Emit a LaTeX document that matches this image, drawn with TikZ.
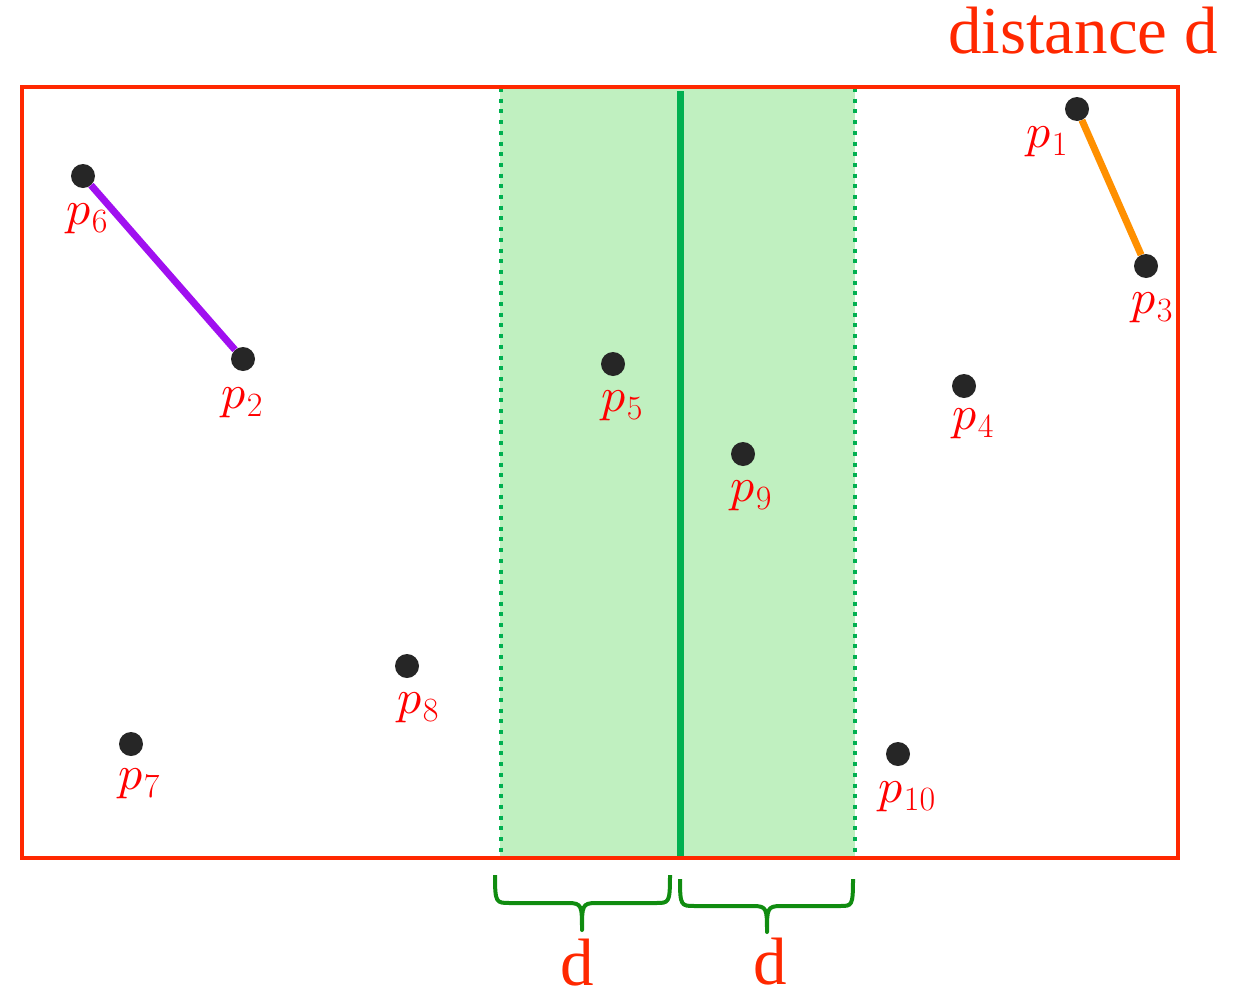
\documentclass[tikz,border=0pt]{standalone}
\usepackage{fontspec}
\DeclareFontShape{OML}{cmm}{m}{it}{<-6>cmmi5<6-7>cmmi6<7-8>cmmi7<8-9>cmmi8<9-10>cmmi9<10->cmmi10}{}
\newfontfamily\serifbig{Liberation Serif}
\newcommand{\ptname}[1]{$p$\kern1pt\raisebox{-8pt}{\fontsize{34}{40}\selectfont #1}}
\definecolor{framered}{RGB}{255,40,0}
\definecolor{labred}{RGB}{255,0,0}
\definecolor{bandgreen}{RGB}{192,240,192}
\definecolor{linegreen}{RGB}{0,176,80}
\definecolor{bracegreen}{RGB}{16,140,16}
\definecolor{dotgray}{RGB}{38,38,38}
\definecolor{pairpurple}{RGB}{160,16,240}
\definecolor{pairorange}{RGB}{255,144,0}
\tikzset{
  frame/.style={draw=framered,line width=3.5pt},
  dotline/.style={draw=linegreen,line width=4pt,dash pattern=on 4pt off 6.7pt},
  midline/.style={draw=linegreen,line width=7pt},
  pt/.style={circle,fill=dotgray,inner sep=0pt,minimum size=24pt},
  plab/.style={anchor=base,text=labred,inner sep=0pt,font=\fontsize{48}{56}\selectfont},
  biglab/.style={anchor=base,text=framered,inner sep=0pt,font=\serifbig\fontsize{67}{78}\selectfont},
  bracepath/.style={draw=bracegreen,line width=4pt,line join=round},
  pairline/.style={line width=7pt}
}
\begin{document}
\begin{tikzpicture}[x=1pt,y=-1pt]
\useasboundingbox (0,0) rectangle (1247,993);
% strip
\fill[bandgreen] (500,88) rectangle (855,858);
\draw[dotline] (501,88) -- (501,858);
\draw[dotline] (855,88) -- (855,858);
\draw[midline] (680,91) -- (680,860);
% frame
\draw[frame] (22,87) rectangle (1178,858);
% title
\node[biglab,anchor=base east] (title) at (1218,53) {distance d};
% points
\node[pt] (p1) at (1077,109) {};
\node[pt] (p3) at (1146,266) {};
\node[pt] (p6) at (83,176) {};
\node[pt] (p2) at (243,359) {};
\node[pt] (p5) at (613,364) {};
\node[pt] (p4) at (964,386) {};
\node[pt] (p9) at (743,454) {};
\node[pt] (p8) at (407,666) {};
\node[pt] (p7) at (131,744) {};
\node[pt] (p10) at (898,754) {};
% closest pairs
\draw[pairline,pairpurple] (p6) -- (p2);
\draw[pairline,pairorange] (p1) -- (p3);
% labels
\node[plab] (l1) at (1047,147) {\ptname{1}};
\node[plab] (l3) at (1152,313) {\ptname{3}};
\node[plab] (l6) at (87,224) {\ptname{6}};
\node[plab] (l2) at (242,408) {\ptname{2}};
\node[plab] (l5) at (622,411) {\ptname{5}};
\node[plab] (l4) at (973,429) {\ptname{4}};
\node[plab] (l9) at (751,501) {\ptname{9}};
\node[plab] (l8) at (418,713) {\ptname{8}};
\node[plab] (l7) at (139,789) {\ptname{7}};
\node[plab] (l10) at (907,802) {\ptname{10}};
% braces
\coordinate (b1tip) at (582,930);
\coordinate (b2tip) at (767,932);
\draw[bracepath] (495,875) .. controls (495,903) and (496,903) .. (510,903) -- (568,903)
  .. controls (582,903) and (582,906) .. (b1tip)
  .. controls (582,906) and (582,903) .. (596,903) -- (656,903)
  .. controls (669,903) and (670,903) .. (670,875);
\draw[bracepath] (680,879) .. controls (680,906) and (681,906) .. (695,906) -- (753,906)
  .. controls (767,906) and (767,909) .. (b2tip)
  .. controls (767,909) and (767,906) .. (781,906) -- (840,906)
  .. controls (852,906) and (853,906) .. (853,879);
\node[biglab] (d1) at (577,985) {d};
\node[biglab] (d2) at (770,984) {d};
\end{tikzpicture}
\end{document}
